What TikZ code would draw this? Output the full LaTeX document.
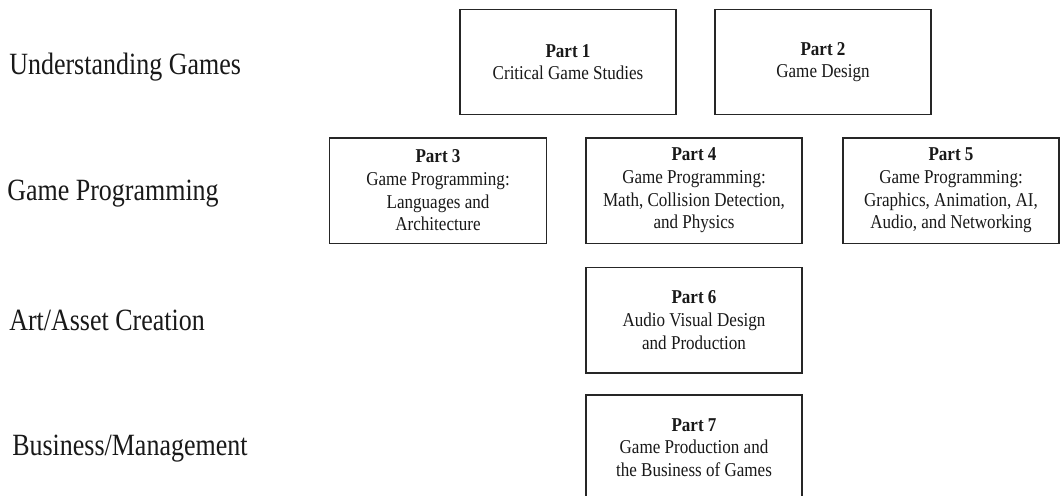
\documentclass[tikz,border=0pt]{standalone}
\usepackage{fontspec}
\setmainfont[FakeStretch=0.87]{Liberation Serif}
\newfontfamily\rowfont[FakeStretch=0.84]{Liberation Serif}
\begin{document}
\begin{tikzpicture}[x=0.75pt, y=-0.75pt,
  partbox/.style={draw=black!85, line width=1pt, rectangle, inner sep=0pt,
    minimum width=162pt, minimum height=79pt, align=center,
    text=black!90, font=\fontsize{14.7}{17}\selectfont},
  rowlabel/.style={anchor=base west, inner sep=0pt, text=black!90,
    font=\rowfont\fontsize{23.2}{28}\selectfont}]
  % page area
  \clip (0,0) rectangle (1061,496);
  \fill[white] (0,0) rectangle (1061,496);

  % row headings
  \node[rowlabel] (r1) at (9,74.7) {Understanding Games};
  \node[rowlabel] (r2) at (7,200.7) {Game Programming};
  \node[rowlabel] (r3) at (9,330) {Art/Asset Creation};
  \node[rowlabel] (r4) at (12,455) {Business/Management};

  % parts of the book
  \node[partbox] (p1) at (568,62) {\textbf{Part 1}\\Critical Game Studies};
  \node[partbox] (p2) at (823,62) {\textbf{Part 2}\\Game Design};
  \node[partbox, minimum width=163pt] (p3) at (438,190.5)
    {\textbf{Part 3}\\Game Programming:\\Languages and\\Architecture};
  \node[partbox] (p4) at (694,190.5)
    {\textbf{Part 4}\\Game Programming:\\Math, Collision Detection,\\and Physics};
  \node[partbox] (p5) at (951,190.5)
    {\textbf{Part 5}\\Game Programming:\\Graphics, Animation, AI,\\Audio, and Networking};
  \node[partbox] (p6) at (694,320.2)
    {\textbf{Part 6}\\Audio Visual Design\\and Production};
  \node[partbox] (p7) at (694,447.5)
    {\textbf{Part 7}\\Game Production and\\the Business of Games};
\end{tikzpicture}
\end{document}
